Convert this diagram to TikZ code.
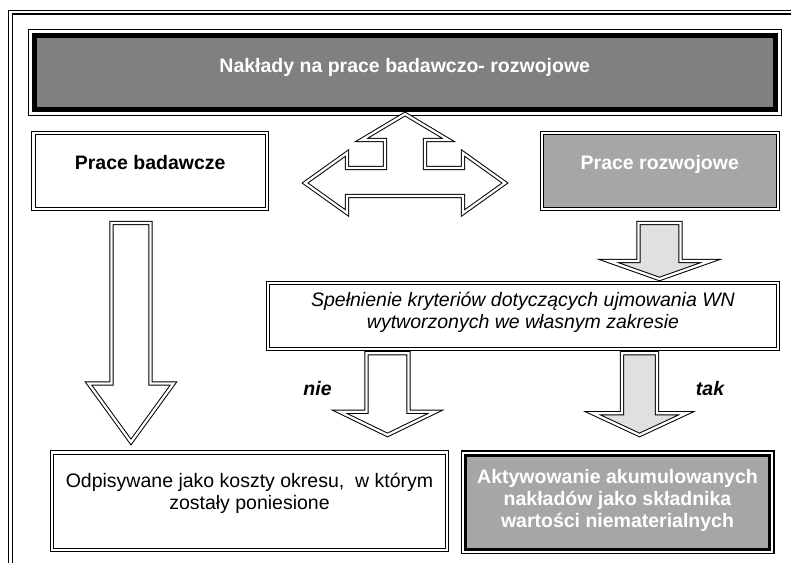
\documentclass[tikz,border=0pt]{standalone}
\usepackage{fontspec}
\setmainfont{Liberation Sans}
\usepackage{tikz}
\usetikzlibrary{positioning,calc}

\definecolor{darkfill}{gray}{0.5}
\definecolor{midfill}{gray}{0.65}
\definecolor{lightfill}{gray}{0.88}

\tikzset{
  dline/.style={draw=black, double=white, line width=1pt, double distance=2.3pt},
  plainbox/.style={dline, fill=white, inner sep=0pt},
  greybox/.style={dline, fill=midfill, inner sep=0pt},
  heavybox/.style={draw=black, fill=darkfill, line width=5pt, inner sep=0pt,
    preaction={draw=black, line width=13pt}, preaction={draw=white, line width=11pt}},
  akbox/.style={draw=black, fill=midfill, line width=3pt, inner sep=0pt,
    preaction={draw=black, line width=10pt}, preaction={draw=white, line width=7pt}},
  blockarr/.style={dline, fill=white},
  oneline/.style={text height=14pt, text depth=4pt, inner sep=0pt},
  lbl/.style={oneline, font=\bfseries\itshape}
}

% block arrow pointing down: tip, shaft half width, head half width, head length, full length
\newcommand{\downblock}[6][]{%
  \draw[blockarr,#1,shift={(#2)}] (0,0) -- (#4,-#5) -- (#3,-#5) -- (#3,-#6)
    -- (-#3,-#6) -- (-#3,-#5) -- (-#4,-#5) -- cycle;}

\begin{document}
\fontsize{19.5}{22}\selectfont
\begin{tikzpicture}[x=1pt, y=-1pt]
    \useasboundingbox (0,0) rectangle (791,562);
    \clip (0,0) rectangle (791,562);

    % frame of the page, cut at the right and at the bottom
    \draw[draw=black, double=white, line width=1.2pt, double distance=2.6pt] (10.6,12) rectangle (830,600);

    \node[heavybox, minimum width=740.5, minimum height=74] (naklady) at (404.75,72.5) {};
    \node[plainbox, minimum width=233.3, minimum height=75.4] (badawcze) at (150.2,171) {};
    \node[greybox, minimum width=236.3, minimum height=75.4] (rozwojowe) at (659.8,171) {};
    \node[plainbox, minimum width=510, minimum height=65.7] (kryteria) at (523,315.8) {};
    \node[plainbox, minimum width=394.4, minimum height=97.5] (odpis) at (249.5,501.3) {};
    \node[akbox, minimum width=304, minimum height=94] (aktyw) at (617.5,502) {};

    \node[oneline, text=white, font=\bfseries] (nakladyT) at ([yshift=5.5]naklady.center) {Nakłady na prace badawczo- rozwojowe};
    \node[oneline, font=\bfseries] (badawczeT) at ([yshift=7]badawcze.center) {Prace badawcze};
    \node[oneline, text=white, font=\bfseries] (rozwojoweT) at ([yshift=6.5]rozwojowe.center) {Prace rozwojowe};
    \node[align=center, font=\itshape, inner sep=0pt] (kryteriaT) at ([yshift=3]kryteria.center)
      {Spełnienie kryteriów dotyczących ujmowania WN\\wytworzonych we własnym zakresie};
    \node[align=center, inner sep=0pt] (odpisT) at ([yshift=8]odpis.center)
      {Odpisywane jako koszty okresu,~ w którym\\zostały poniesione};
    \node[align=center, text=white, font=\bfseries, inner sep=0pt] (aktywT) at ([yshift=2]aktyw.center)
      {Aktywowanie akumulowanych\\nakładów jako składnika\\wartości niematerialnych};

    % arrows
    \coordinate (teeTip) at (405,114);
    \draw[blockarr, shift={(teeTip)}] (0,0) -- (43.5,26) -- (20,26) -- (20,54) -- (58,54) -- (58,39)
      -- (100,69) -- (58,99) -- (58,82) -- (-58,82) -- (-58,99) -- (-100,69) -- (-58,39)
      -- (-58,54) -- (-20,54) -- (-20,26) -- (-43.5,26) -- cycle;

    \coordinate (tipBad) at (131,442);
    \coordinate (tipRoz) at (659.5,279);
    \coordinate (tipNie) at (387.5,435);
    \coordinate (tipTak) at (639.5,435);
    \downblock{tipBad}{19.5}{42.5}{58.5}{219}
    \downblock[fill=lightfill]{tipRoz}{21}{51}{18}{56}
    \downblock{tipNie}{21}{48}{23.3}{81.7}
    \downblock[fill=lightfill]{tipTak}{17.5}{46.7}{21.7}{81.7}

    \node[lbl] (nie) at (317.5,390) {nie};
    \node[lbl] (tak) at (710,390) {tak};
\end{tikzpicture}
\end{document}
